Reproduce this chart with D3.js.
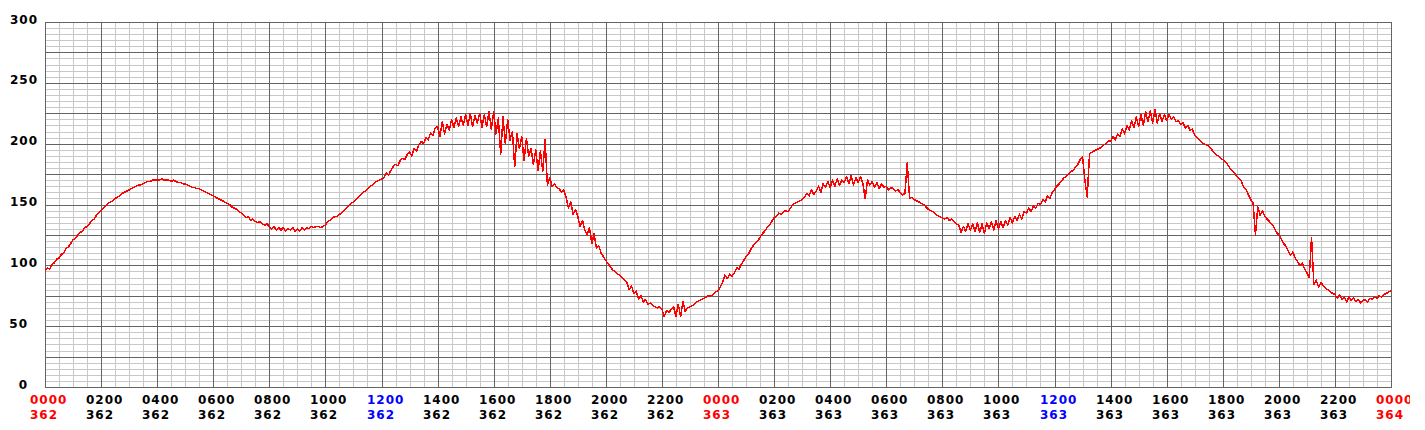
<!DOCTYPE html>
<html><head><meta charset="utf-8">
<script src="https://cdn.jsdelivr.net/npm/d3@7"></script>
<style>body{margin:0;background:#fff}svg{display:block}</style>
</head><body>
<svg id="chart" width="1425" height="430"></svg>
<script>
// ---- data ----
const stepMinutes = 5;           // sampling interval of the series
const totalHours = 48;
// one row per hour (12 samples each, 5-minute steps), day 362 00:00 -> day 364 00:00
const values = [
  96, 98, 97, 101, 102, 105, 106, 109, 110, 114, 115, 118,
  121, 122, 125, 127, 128, 131, 132, 134, 137, 138, 141, 143,
  145, 147, 149, 151, 152, 153, 155, 156, 157, 159, 160, 161,
  162, 163, 164, 165, 166, 166, 167, 168, 169, 169, 170, 170,
  170, 170, 171, 170, 170, 170, 169, 170, 169, 168, 168, 167,
  167, 166, 165, 164, 164, 163, 163, 162, 161, 160, 159, 158,
  157, 156, 155, 154, 153, 152, 151, 150, 148, 147, 146, 144,
  143, 141, 139, 140, 137, 138, 136, 135, 136, 134, 133, 134,
  132, 130, 132, 129, 131, 129, 131, 128, 130, 129, 131, 128,
  130, 128, 131, 129, 131, 130, 132, 131, 132, 132, 131, 132,
  133, 136, 137, 139, 140, 140, 142, 143, 145, 147, 149, 151,
  152, 154, 156, 158, 160, 161, 163, 165, 166, 168, 169, 170,
  171, 172, 176, 174, 178, 181, 183, 182, 186, 188, 187, 191,
  193, 190, 196, 194, 199, 202, 200, 205, 203, 209, 207, 213,
  214, 206, 218, 208, 216, 211, 220, 213, 221, 214, 222, 215,
  224, 215, 225, 214, 223, 217, 225, 213, 224, 214, 226, 212,
  226, 208, 221, 191, 222, 200, 220, 203, 210, 181, 208, 196,
  206, 186, 204, 190, 196, 183, 195, 178, 194, 177, 203, 166,
  172, 165, 167, 164, 163, 160, 162, 156, 147, 152, 142, 146,
  140, 132, 137, 129, 125, 131, 118, 126, 114, 116, 110, 107,
  104, 101, 99, 96, 95, 93, 92, 90, 88, 86, 80, 83,
  77, 79, 72, 75, 70, 72, 68, 69, 67, 66, 65, 66,
  64, 58, 63, 61, 64, 66, 58, 68, 58, 70, 62, 65,
  66, 67, 68, 70, 71, 72, 73, 74, 75, 75, 76, 78,
  79, 82, 86, 92, 89, 93, 91, 94, 98, 97, 101, 104,
  107, 109, 113, 116, 118, 120, 123, 126, 128, 131, 133, 136,
  139, 140, 143, 142, 144, 145, 144, 147, 150, 151, 152, 153,
  154, 156, 159, 157, 162, 158, 161, 165, 160, 167, 164, 169,
  164, 170, 165, 171, 166, 170, 168, 173, 167, 174, 166, 172,
  168, 173, 167, 155, 170, 166, 169, 164, 168, 163, 167, 164,
  165, 162, 164, 163, 161, 162, 160, 158, 159, 184, 155, 156,
  154, 153, 152, 151, 150, 148, 146, 145, 144, 142, 141, 140,
  139, 138, 139, 137, 138, 136, 134, 133, 127, 132, 128, 134,
  129, 134, 128, 135, 127, 134, 126, 135, 130, 136, 129, 137,
  130, 136, 131, 137, 133, 139, 135, 140, 137, 142, 138, 144,
  143, 147, 144, 149, 147, 151, 150, 154, 152, 157, 155, 160,
  162, 165, 167, 169, 172, 173, 175, 177, 178, 181, 183, 187,
  189, 170, 156, 192, 193, 194, 195, 196, 197, 199, 200, 202,
  202, 206, 203, 208, 206, 212, 208, 215, 211, 219, 213, 222,
  214, 224, 215, 226, 218, 227, 217, 228, 217, 225, 218, 224,
  219, 224, 220, 222, 218, 219, 216, 217, 213, 215, 211, 212,
  207, 205, 203, 201, 200, 199, 198, 196, 193, 191, 190, 188,
  187, 185, 183, 180, 178, 176, 173, 171, 169, 164, 162, 158,
  154, 151, 125, 148, 141, 145, 140, 138, 136, 134, 131, 127,
  125, 122, 118, 116, 112, 108, 111, 106, 103, 100, 102, 97,
  94, 90, 123, 84, 88, 82, 86, 83, 81, 80, 78, 77,
  76, 73, 76, 72, 74, 70, 74, 71, 73, 70, 72, 69,
  71, 72, 70, 73, 72, 74, 73, 75, 74, 76, 77, 78,
  79
];
const xTickHours = [0,2,4,6,8,10,12,14,16,18,20,22,24,26,28,30,32,34,36,38,40,42,44,46,48];
const xTickTimes = ["0000","0200","0400","0600","0800","1000","1200","1400","1600","1800","2000","2200",
                    "0000","0200","0400","0600","0800","1000","1200","1400","1600","1800","2000","2200","0000"];
const xTickDays  = ["362","362","362","362","362","362","362","362","362","362","362","362",
                    "363","363","363","363","363","363","363","363","363","363","363","363","364"];
const yTickValues = [0,50,100,150,200,250,300];
const yTickLabels = ["0","50","100","150","200","250","300"];

// ---- drawing ----
const svg = d3.select("#chart");
const x = d3.scaleLinear().domain([0, totalHours]).range([45, 1391]);
const y = d3.scaleLinear().domain([0, 300]).range([387, 22]);
const px = v => Math.round(v) + 0.5;

const MINOR = "#c8c8c8", MAJOR = "#646464";

const grid = svg.append("g").attr("shape-rendering", "crispEdges");
// minor grid
grid.selectAll(".vmin").data(d3.range(0, totalHours + 0.01, 0.5)).join("line")
  .attr("x1", d => px(x(d))).attr("x2", d => px(x(d)))
  .attr("y1", y(0)).attr("y2", y(300)).attr("stroke", MINOR);
grid.selectAll(".hmin").data(d3.range(0, 301, 5)).join("line")
  .attr("y1", d => px(y(d))).attr("y2", d => px(y(d)))
  .attr("x1", x(0)).attr("x2", x(totalHours) + 1).attr("stroke", MINOR);
// major grid
grid.selectAll(".vmaj").data(xTickHours).join("line")
  .attr("x1", d => px(x(d))).attr("x2", d => px(x(d)))
  .attr("y1", y(0) + 1).attr("y2", y(300)).attr("stroke", MAJOR);
grid.selectAll(".hmaj").data(d3.range(0, 301, 25)).join("line")
  .attr("y1", d => px(y(d))).attr("y2", d => px(y(d)))
  .attr("x1", x(0)).attr("x2", x(totalHours) + 1).attr("stroke", MAJOR);

// series
const line = d3.line()
  .x((d, i) => x(i * stepMinutes / 60))
  .y(d => y(d));
svg.append("path").datum(values)
  .attr("d", line).attr("fill", "none")
  .attr("stroke", "#ff0000").attr("stroke-width", 1.5)
  .attr("stroke-linejoin", "round").attr("shape-rendering", "crispEdges");

// clip for labels (original canvas ends at ~1410px)
svg.append("clipPath").attr("id", "clipText")
  .append("rect").attr("x", 0).attr("y", 0).attr("width", 1410).attr("height", 430);

const font = "'DejaVu Sans', sans-serif";
// y labels
svg.append("g").selectAll("text").data(yTickValues).join("text")
  .attr("x", (d, i) => yTickLabels[i].length >= 3 ? 38 : 28)
  .attr("y", d => y(d) + 1.5)
  .attr("text-anchor", "end")
  .attr("font-family", font).attr("font-size", 12).attr("font-weight", "bold")
  .style("letter-spacing", "1px")
  .attr("fill", "#000")
  .text((d, i) => yTickLabels[i]);

// x labels
const colorFor = t => t === "0000" ? "#ff0000" : (t === "1200" ? "#0000ff" : "#000000");
const xl = svg.append("g").attr("clip-path", "url(#clipText)")
  .selectAll("g").data(xTickHours).join("g")
  .attr("transform", d => `translate(${Math.round(x(d)) - 15},0)`);
xl.append("text").attr("x", 0).attr("y", 403.5)
  .attr("font-family", font).attr("font-size", 12).attr("font-weight", "bold")
  .style("letter-spacing", "1px")
  .attr("fill", (d, i) => colorFor(xTickTimes[i]))
  .text((d, i) => xTickTimes[i]);
xl.append("text").attr("x", 0).attr("y", 419)
  .attr("font-family", font).attr("font-size", 12).attr("font-weight", "bold")
  .style("letter-spacing", "1px")
  .attr("fill", (d, i) => colorFor(xTickTimes[i]))
  .text((d, i) => xTickDays[i]);
</script>
</body></html>
